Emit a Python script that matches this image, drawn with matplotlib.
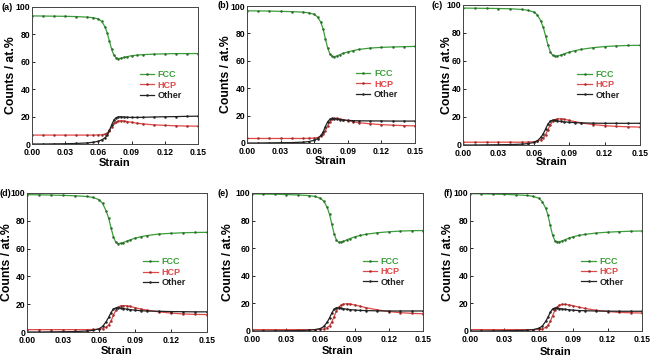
import matplotlib
matplotlib.use("Agg")
import matplotlib.pyplot as plt

plt.rcParams['font.family'] = ['Liberation Sans', 'DejaVu Sans']
plt.rcParams['font.weight'] = 'bold'

# shared strain grid
strain = [0, 0.01, 0.02, 0.03, 0.04, 0.05, 0.055, 0.06, 0.063, 0.066, 0.068,
          0.070, 0.072, 0.074, 0.076, 0.078, 0.080, 0.083, 0.086, 0.09,
          0.095, 0.10, 0.11, 0.12, 0.13, 0.14, 0.15]

panel_labels = ['(a)', '(b)', '(c)', '(d)', '(e)', '(f)']

fcc_a = [93.5, 93.4, 93.3, 93.2, 93.0, 92.6, 92.2, 91.3, 89.5, 85.5, 81, 75, 69,
         64.8, 63, 62.4, 62.5, 63.2, 63.8, 64.4, 64.9, 65.2, 65.6, 65.8, 66.0, 66.0, 66.0]
hcp_a = [6.5, 6.5, 6.5, 6.5, 6.5, 6.5, 6.5, 6.6, 6.8, 7.2, 8, 9.8, 12.5, 15, 16.3,
         16.8, 17, 16.8, 16.4, 15.8, 15.2, 14.7, 14, 13.6, 13.3, 13.1, 13.0]
oth_a = [0, 0, 0.1, 0.2, 0.4, 0.8, 1.2, 2, 3, 4.5, 6.5, 10, 14, 17.5, 19.2, 19.8,
         19.9, 19.7, 19.5, 19.4, 19.4, 19.5, 19.7, 19.9, 20.0, 20.2, 20.3]

fcc_b = [96.5, 96.4, 96.3, 96.1, 95.9, 95.5, 95.0, 94.0, 92, 88, 83, 76, 69.5, 65,
         63.2, 63, 63.5, 64.5, 65.5, 66.5, 67.5, 68.3, 69.3, 69.8, 70.1, 70.3, 70.5]
hcp_b = [3.3, 3.3, 3.3, 3.3, 3.3, 3.3, 3.4, 3.6, 4.0, 5.0, 6.5, 9, 12.5, 15.5, 17.2,
         17.9, 18, 17.6, 17, 16.3, 15.5, 14.8, 14, 13.4, 13, 12.7, 12.5]
oth_b = [0, 0, 0.1, 0.2, 0.3, 0.6, 1.0, 2, 3.2, 5.5, 8, 12, 15.5, 17.3, 17.9, 17.8,
         17.5, 17.1, 16.8, 16.5, 16.3, 16.2, 16.1, 16.1, 16.0, 16.0, 16.0]

fcc_c = [97.8, 97.7, 97.6, 97.5, 97.3, 96.8, 96.2, 95.0, 93.0, 88.5, 84, 78, 71.5,
         66.5, 64, 63.4, 63.5, 64.3, 65.2, 66.3, 67.4, 68.3, 69.5, 70.3, 70.8, 71.1, 71.2]
hcp_c = [2.0, 2.0, 2.0, 2.0, 2.0, 2.0, 2.1, 2.3, 2.8, 3.8, 5.0, 7.5, 11, 14.5, 17,
         18.2, 18.7, 18.8, 18.4, 17.6, 16.6, 15.8, 14.6, 13.8, 13.3, 13.0, 12.8]
oth_c = [0, 0, 0.1, 0.2, 0.3, 0.6, 1.0, 1.8, 3.0, 5.5, 8, 11.5, 15, 17, 17.8, 17.6,
         17.2, 16.8, 16.5, 16.2, 16.0, 15.8, 15.6, 15.5, 15.5, 15.5, 15.5]

fcc_d = [98.8, 98.7, 98.5, 98.3, 98.0, 97.5, 96.8, 95.2, 92.5, 87, 82, 75, 68.5,
         64.5, 63.6, 63.8, 64.3, 65.3, 66.3, 67.5, 68.6, 69.4, 70.5, 71.0, 71.4, 71.6, 71.7]
hcp_d = [1.7, 1.7, 1.7, 1.7, 1.7, 1.7, 1.8, 2.0, 2.5, 3.6, 5, 8, 12, 15.5, 17.8,
         18.8, 19.0, 18.9, 18.4, 17.5, 16.5, 15.7, 14.5, 13.6, 13.0, 12.7, 12.5]
oth_d = [0, 0, 0.1, 0.2, 0.3, 0.7, 1.2, 2.3, 4.0, 7.5, 10.5, 14, 16.5, 17.3, 17.4,
         17.2, 16.9, 16.5, 16.1, 15.7, 15.3, 15.1, 14.9, 14.7, 14.6, 14.5, 14.5]

fcc_e = [99.3, 99.2, 99.1, 98.9, 98.6, 98.1, 97.5, 96.2, 94, 89.5, 84.5, 77.5, 70.5,
         66, 64.3, 64.4, 64.9, 66, 67, 68.2, 69.3, 70.1, 71.2, 71.9, 72.4, 72.7, 72.8]
hcp_e = [1.0, 1.0, 1.0, 1.0, 1.0, 1.0, 1.0, 1.1, 1.5, 2.5, 3.8, 6.5, 10.5, 14.5,
         17.2, 18.7, 19.4, 19.8, 19.6, 18.9, 17.9, 16.9, 15.3, 14.1, 13.3, 12.8, 12.5]
oth_e = [0, 0, 0.1, 0.2, 0.3, 0.6, 1.0, 1.8, 3.3, 6.5, 9.5, 13, 15.8, 16.8, 16.8,
         16.5, 16.2, 15.8, 15.5, 15.2, 14.9, 14.8, 14.6, 14.5, 14.5, 14.5, 14.5]

fcc_f = [99.5, 99.4, 99.2, 99.0, 98.7, 98.2, 97.6, 96.2, 93.8, 89, 84, 76.5, 69.5,
         65.5, 64.4, 64.6, 65.2, 66.2, 67.2, 68.3, 69.3, 70.0, 71.0, 71.6, 72.0, 72.3, 72.5]
hcp_f = [1.0, 1.0, 1.0, 1.0, 1.0, 1.0, 1.0, 1.1, 1.5, 2.6, 4, 7, 11, 15, 17.5, 18.8,
         19.3, 19.3, 19.0, 18.3, 17.3, 16.4, 15, 14.1, 13.5, 13.2, 13.0]
oth_f = [0, 0, 0.1, 0.2, 0.3, 0.6, 1.0, 2.0, 3.5, 7, 10, 13.5, 16, 16.7, 16.6, 16.3,
         16.0, 15.7, 15.4, 15.1, 14.8, 14.7, 14.5, 14.4, 14.3, 14.3, 14.3]

fcc_all = [fcc_a, fcc_b, fcc_c, fcc_d, fcc_e, fcc_f]
hcp_all = [hcp_a, hcp_b, hcp_c, hcp_d, hcp_e, hcp_f]
oth_all = [oth_a, oth_b, oth_c, oth_d, oth_e, oth_f]

x_ticks = [0.00, 0.03, 0.06, 0.09, 0.12, 0.15]
y_ticks = [0, 20, 40, 60, 80, 100]

W, H = 650, 357
# axes boxes in pixels: left, right, top, bottom
boxes = [(32, 198, 7, 144), (247, 415, 6, 143), (463, 640, 5, 145),
         (27, 207, 193, 332), (252, 423, 193, 331), (470, 642, 193, 331)]
label_pos = [(2, 7), (217, 5), (432, 5), (0, 193), (217, 193), (443, 193)]
# centre of y label (x px) and of x label (y px)
ylab_x = [11, 226, 447, 7, 228, 448]
xlab_y = [163, 161, 162, 351, 351, 352]

green = '#3a9e3a'
red = '#e04848'
black = '#222222'

fig = plt.figure(figsize=(6.5, 3.57), dpi=100)

for i in range(6):
    l, r, t, b = boxes[i]
    ax = fig.add_axes([l / W, (H - b) / H, (r - l) / W, (b - t) / H])
    ax.plot(strain, fcc_all[i], color=green, lw=0.9, marker='.', ms=1.6,
            mec='#2a6e2a', mfc='#2a6e2a', label='FCC')
    ax.plot(strain, hcp_all[i], color=red, lw=0.9, marker='.', ms=1.6,
            mec='#a02a2a', mfc='#a02a2a', label='HCP')
    ax.plot(strain, oth_all[i], color=black, lw=0.9, marker='.', ms=1.6,
            label='Other')
    ax.set_xlim(0, 0.15)
    ax.set_ylim(0, 100)
    ax.set_xticks(x_ticks)
    ax.set_xticklabels([f'{v:.2f}' for v in x_ticks])
    ax.set_yticks(y_ticks)
    ax.tick_params(direction='in', length=2.5, width=0.6, labelsize=6.2)
    ax.tick_params(axis='x', pad=3.0)
    ax.tick_params(axis='y', pad=1.2)
    for s in ax.spines.values():
        s.set_linewidth(0.7)
        s.set_color('#444444')
    ax.set_xlabel('Strain', fontsize=8, fontweight='bold', va='center')
    ax.set_ylabel('Counts / at.%', fontsize=8.8, fontweight='bold', va='center')
    ax.xaxis.set_label_coords(0.5 * (l + r) / W, 1 - xlab_y[i] / H,
                              transform=fig.transFigure)
    ax.yaxis.set_label_coords(ylab_x[i] / W, 1 - 0.5 * (t + b) / H,
                              transform=fig.transFigure)
    ax.legend(loc='center left', bbox_to_anchor=(0.6, 0.43), frameon=False,
              handlelength=1.6, handletextpad=0.4,
              labelspacing=0.15, labelcolor=[green, red, black],
              prop={'weight': 'bold', 'size': 6.5})
    lx, ly = label_pos[i]
    fig.text(lx / W, 1 - ly / H, panel_labels[i], fontsize=6.5,
             fontweight='bold', va='center', ha='left')

fig.savefig('out.png', dpi=100)
